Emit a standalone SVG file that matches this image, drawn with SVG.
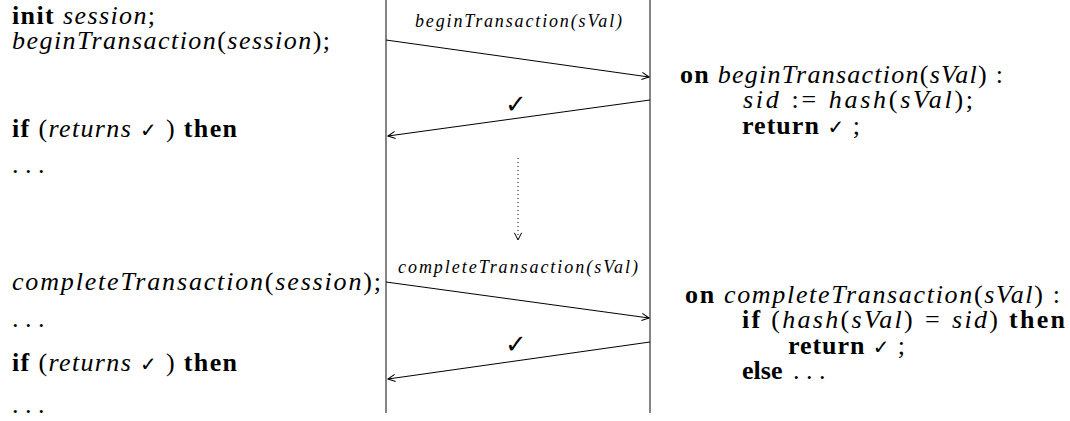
<svg xmlns="http://www.w3.org/2000/svg" width="1070" height="421" viewBox="0 0 1070 421">
<style>
text{font-family:'Liberation Serif','Times New Roman',serif}
.t{font-size:26px;fill:#000}
.s{font-size:18px;fill:#000;font-style:italic}
.b{font-weight:bold;font-style:normal}
.i{font-style:italic}
.ck{font-family:'DejaVu Sans',sans-serif;fill:#000;font-style:normal;font-weight:normal}
.life{stroke:#666;stroke-width:1.6;fill:none}
.msg{stroke:#000;stroke-width:1;fill:none}
</style>
<defs>
<marker id="ah" viewBox="0 0 10 10" refX="9" refY="5" markerWidth="9" markerHeight="9" markerUnits="userSpaceOnUse" orient="auto">
<path d="M1,1 L9,5 L1,9" fill="none" stroke="#000" stroke-width="1.1"/>
</marker>
</defs>
<g id="lifelines">
<line class="life" x1="386" y1="0" x2="386" y2="413"/>
<line class="life" x1="650" y1="0" x2="650" y2="413"/>
</g>
<g id="connectors">
<line class="msg" x1="386" y1="40" x2="649" y2="77" marker-end="url(#ah)"/>
<line class="msg" x1="650" y1="100" x2="388" y2="136" marker-end="url(#ah)"/>
<line class="msg" x1="518" y1="158" x2="518" y2="240" stroke-dasharray="1,3" marker-end="url(#ah)"/>
<line class="msg" x1="386" y1="282" x2="649" y2="318" marker-end="url(#ah)"/>
<line class="msg" x1="650" y1="342" x2="388" y2="379" marker-end="url(#ah)"/>
</g>
<g id="labels">
<text class="s" x="415" y="27" textLength="207" lengthAdjust="spacing">beginTransaction(sVal)</text>
<text class="ck" x="516" y="113" font-size="26" text-anchor="middle">✓</text>
<text class="s" x="398" y="273" textLength="240" lengthAdjust="spacing">completeTransaction(sVal)</text>
<text class="ck" x="516" y="353" font-size="26" text-anchor="middle">✓</text>
</g>
<g id="client">
<text class="t" x="12" y="24" textLength="143" lengthAdjust="spacing"><tspan class="b">init</tspan> <tspan class="i">session</tspan>;</text>
<text class="t" x="12" y="49" textLength="318" lengthAdjust="spacing"><tspan class="i">beginTransaction</tspan>(<tspan class="i">session</tspan>);</text>
<text class="t" x="12" y="137" textLength="225" lengthAdjust="spacing"><tspan class="b">if</tspan> (<tspan class="i">returns</tspan> <tspan class="ck" font-size="20">✓</tspan> ) <tspan class="b">then</tspan></text>
<text class="t" x="12" y="173">. . .</text>
<text class="t" x="12" y="290" textLength="369" lengthAdjust="spacing"><tspan class="i">completeTransaction</tspan>(<tspan class="i">session</tspan>);</text>
<text class="t" x="12" y="327">. . .</text>
<text class="t" x="12" y="371" textLength="225" lengthAdjust="spacing"><tspan class="b">if</tspan> (<tspan class="i">returns</tspan> <tspan class="ck" font-size="20">✓</tspan> ) <tspan class="b">then</tspan></text>
<text class="t" x="12" y="413">. . .</text>
</g>
<g id="server">
<text class="t" x="680" y="83" textLength="323" lengthAdjust="spacing"><tspan class="b">on</tspan> <tspan class="i">beginTransaction</tspan>(<tspan class="i">sVal</tspan>) :</text>
<text class="t" x="743" y="108" textLength="230" lengthAdjust="spacing"><tspan class="i">sid</tspan><tspan dx="10">:=</tspan><tspan class="i" dx="10">hash</tspan>(<tspan class="i">sVal</tspan>);</text>
<text class="t" x="742" y="134" textLength="118" lengthAdjust="spacing"><tspan class="b">return</tspan> <tspan class="ck" font-size="20">✓</tspan> ;</text>
<text class="t" x="685" y="303" textLength="375" lengthAdjust="spacing"><tspan class="b">on</tspan> <tspan class="i">completeTransaction</tspan>(<tspan class="i">sVal</tspan>) :</text>
<text class="t" x="742" y="328" textLength="323" lengthAdjust="spacing"><tspan class="b">if</tspan> (<tspan class="i">hash</tspan>(<tspan class="i">sVal</tspan>)<tspan dx="10">=</tspan><tspan class="i" dx="10">sid</tspan>) <tspan class="b">then</tspan></text>
<text class="t" x="788" y="354" textLength="117" lengthAdjust="spacing"><tspan class="b">return</tspan> <tspan class="ck" font-size="20">✓</tspan> ;</text>
<text class="t" x="742" y="379"><tspan class="b">else</tspan> <tspan dx="4">. . .</tspan></text>
</g>
</svg>
